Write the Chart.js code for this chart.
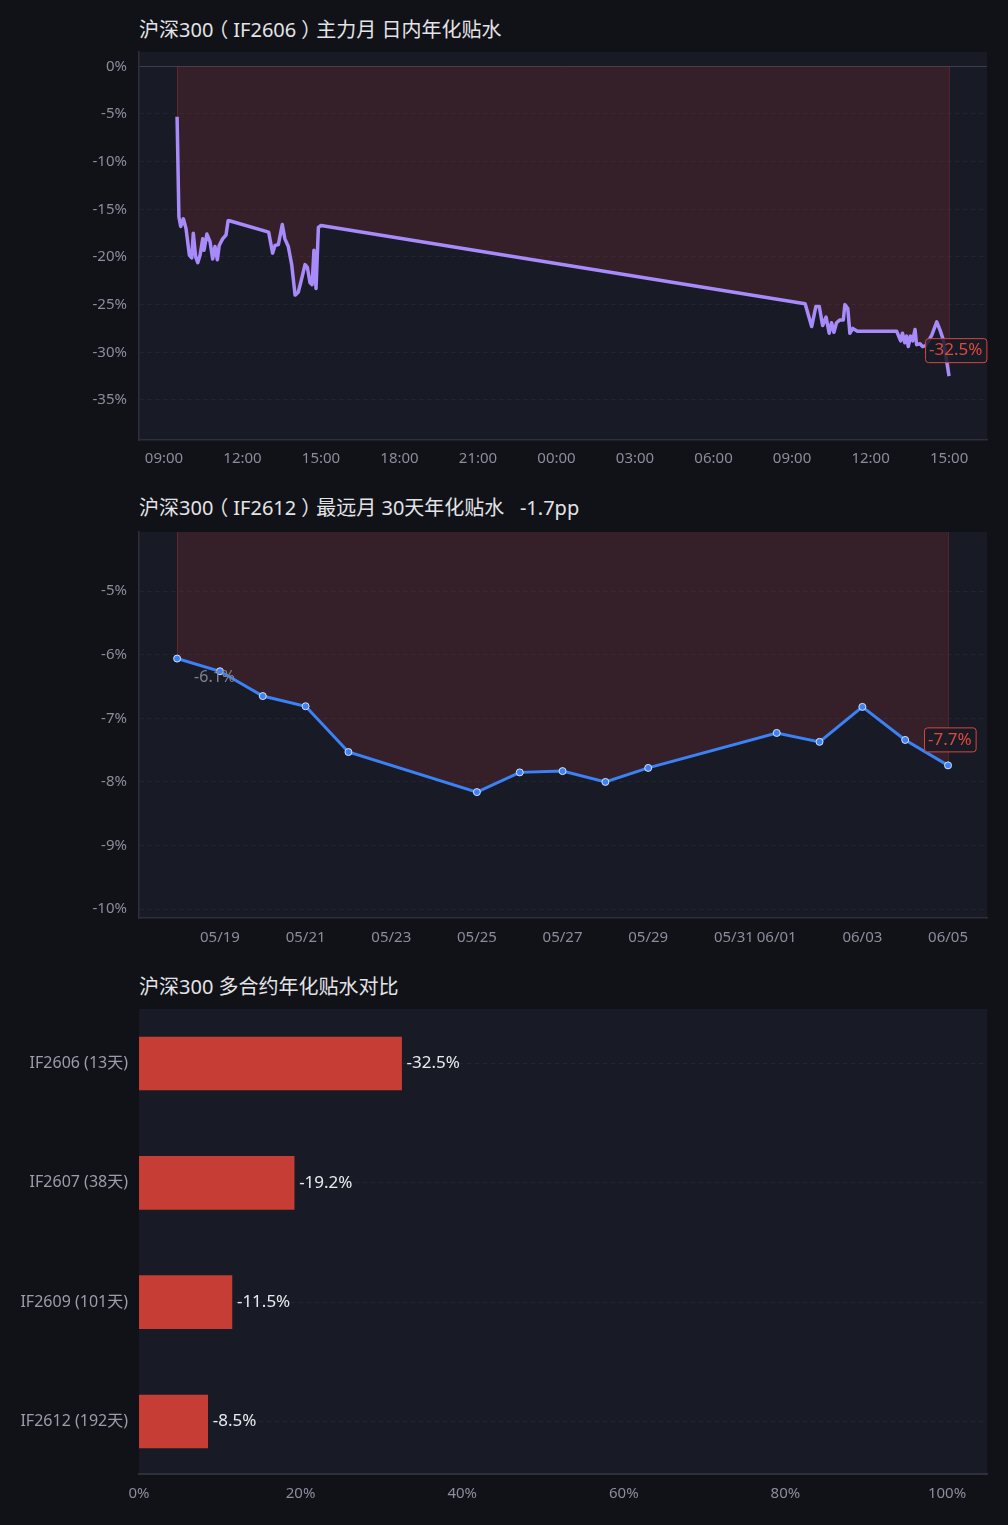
<!DOCTYPE html>
<html>
<head>
<meta charset="utf-8">
<script src="https://cdn.jsdelivr.net/npm/chart.js@4.4.1/dist/chart.umd.min.js"></script>
<style>
  body { margin: 0; background: #111217; width: 1008px; height: 1525px; overflow: hidden; position: relative;
         font-family: "Noto Sans", "Noto Sans CJK SC", sans-serif; }
  .title { position: absolute; left: 139px; color: #e3e4e8; font-size: 20px; line-height: 24px; white-space: pre; }
  .po { position: relative; left: -5px; }
  .pc { position: relative; left: 5px; }
  .box { position: absolute; left: 0; width: 1008px; }
</style>
</head>
<body>
<div class="title" style="top:18px">沪深300<span class="po">（</span>IF2606<span class="pc">）</span>主力月 日内年化贴水</div>
<div class="box" style="top:40px;height:440px"><canvas id="intradayChart"></canvas></div>

<div class="title" style="top:496px">沪深300<span class="po">（</span>IF2612<span class="pc">）</span>最远月 30天年化贴水   -1.7pp</div>
<div class="box" style="top:520px;height:440px"><canvas id="farChart"></canvas></div>

<div class="title" style="top:975px">沪深300 多合约年化贴水对比</div>
<div class="box" style="top:1000px;height:525px"><canvas id="compareChart"></canvas></div>

<script>
// --- Data ---
// chart 1: hours counted from 09:00 of the first session (24 = 09:00 next day)
const intradayHours = [
  0.50, 0.57, 0.64, 0.74, 0.84, 0.97, 1.06, 1.12, 1.21, 1.29, 1.38, 1.48, 1.53, 1.64, 1.76, 1.86, 1.95, 2.04, 2.11, 2.24, 2.37, 2.45, 2.50,
  4.00, 4.15, 4.24, 4.37, 4.52, 4.62, 4.75, 4.88, 5.01, 5.13, 5.26, 5.39, 5.48, 5.58, 5.66, 5.73, 5.81, 5.90, 6.00,
  24.50, 24.75, 24.91, 25.04, 25.17, 25.30, 25.42, 25.51, 25.60, 25.70, 25.83, 25.96, 26.02, 26.13, 26.21, 26.32, 26.50,
  28.00, 28.15, 28.22, 28.31, 28.38, 28.44, 28.53, 28.61, 28.70, 28.76, 28.89, 28.99, 29.11, 29.34, 29.53, 29.66, 29.78, 30.00
];
const intradayValues = [
  -5.3, -15.8, -16.8, -16.0, -17.0, -19.8, -20.1, -17.5, -20.0, -20.6, -19.8, -18.1, -19.3, -17.6, -18.4, -20.2, -18.9, -20.3, -18.8, -18.1, -17.7, -16.2, -16.2,
  -17.4, -19.6, -18.8, -18.7, -16.6, -18.1, -18.9, -20.8, -24.0, -23.7, -22.3, -20.8, -21.1, -22.7, -22.9, -19.3, -23.3, -16.9, -16.7,
  -24.9, -27.3, -25.2, -25.2, -27.2, -26.3, -28.0, -26.9, -27.9, -26.9, -26.6, -26.6, -25.0, -25.4, -28.0, -27.5, -27.8,
  -27.8, -28.8, -28.0, -29.0, -28.3, -29.4, -28.3, -28.8, -27.6, -29.2, -29.1, -29.4, -29.3, -28.2, -26.8, -27.7, -28.7, -32.5
];
const intradayTickHours = [0, 3, 6, 9, 12, 15, 18, 21, 24, 27, 30];
const intradayTickLabels = ['09:00', '12:00', '15:00', '18:00', '21:00', '00:00', '03:00', '06:00', '09:00', '12:00', '15:00'];
const intradayYTicks = [0, -5, -10, -15, -20, -25, -30, -35];

// chart 2
const farDates = ['05/18', '05/19', '05/20', '05/21', '05/22', '05/25', '05/26', '05/27', '05/28', '05/29', '06/01', '06/02', '06/03', '06/04', '06/05'];
const farValues = [-6.06, -6.26, -6.65, -6.81, -7.53, -8.16, -7.85, -7.83, -8.00, -7.78, -7.23, -7.37, -6.82, -7.34, -7.74];
const farTickDates = ['05/19', '05/21', '05/23', '05/25', '05/27', '05/29', '05/31', '06/01', '06/03', '06/05'];
const farYTicks = [-5, -6, -7, -8, -9, -10];

// chart 3
const contractLabels = ['IF2606 (13天)', 'IF2607 (38天)', 'IF2609 (101天)', 'IF2612 (192天)'];
const contractValues = [-32.5, -19.2, -11.5, -8.5];
const contractXTicks = [0, 20, 40, 60, 80, 100];

// --- Helpers ---
const FONT = '"Noto Sans", "Noto Sans CJK SC", sans-serif';
Chart.defaults.font.family = FONT;
Chart.defaults.font.size = 15;
Chart.defaults.color = '#8a8d9c';
Chart.defaults.animation = false;
Chart.defaults.plugins.legend.display = false;
Chart.defaults.plugins.tooltip.enabled = false;

const dayIndex = s => {
    const [m, d] = s.split('/').map(Number);
    return (Date.UTC(2026, m - 1, d) - Date.UTC(2026, 4, 18)) / 86400000;
};
const fixTicks = list => scale => { scale.ticks = list.map(v => ({ value: v })); };
// fixed axis sizes, no extra room for overhanging labels
const fitY = s => { s.width = 139; s.paddingTop = 0; s.paddingBottom = 0; };
const fitX = h => s => { s.height = h; s.paddingLeft = 0; s.paddingRight = 0; };
const gridColor = ctx => (ctx.tick && ctx.tick.value === 0) ? '#3b3e4b' : 'rgba(255,255,255,0.05)';
const gridDash = ctx => (ctx.tick && ctx.tick.value === 0) ? [] : [4, 4];
const FILL_RED = 'rgba(220,60,60,0.15)';

// --- Plugins ---
const areaBg = {
    id: 'areaBg',
    beforeDraw(chart) {
        const { ctx, chartArea: a } = chart;
        ctx.save();
        ctx.fillStyle = '#181b26';
        ctx.fillRect(a.left, a.top, a.right - a.left, a.bottom - a.top);
        ctx.restore();
    }
};

// thin red edges at both ends of the filled region
const fillEdges = {
    id: 'fillEdges',
    beforeDatasetsDraw(chart) {
        const { ctx, chartArea: a } = chart;
        const pts = chart.getDatasetMeta(0).data;
        const zero = Math.max(a.top, chart.scales.y.getPixelForValue(0));
        ctx.save();
        ctx.beginPath();
        ctx.rect(a.left, a.top, a.right - a.left, a.bottom - a.top);
        ctx.clip();
        ctx.strokeStyle = 'rgba(200,50,50,0.35)';
        ctx.lineWidth = 1;
        [pts[0], pts[pts.length - 1]].forEach(p => {
            ctx.beginPath();
            ctx.moveTo(Math.round(p.x) + 0.5, zero);
            ctx.lineTo(Math.round(p.x) + 0.5, p.y);
            ctx.stroke();
        });
        ctx.restore();
    }
};

// last value badge + optional first value note
const valueBadges = {
    id: 'valueBadges',
    afterDatasetsDraw(chart, args, opts) {
        const { ctx } = chart;
        const pts = chart.getDatasetMeta(0).data;
        const vals = chart.data.datasets[0].data.map(d => d.y);
        const last = pts[pts.length - 1];
        const text = vals[vals.length - 1].toFixed(1) + '%';
        ctx.save();
        ctx.font = '17px ' + FONT;
        const w = ctx.measureText(text).width + 8;
        const bx = last.x - 24, by = last.y - 38;
        ctx.fillStyle = 'rgba(24,27,38,0.85)';
        ctx.strokeStyle = '#d8463c';
        ctx.lineWidth = 1;
        ctx.beginPath();
        ctx.roundRect(bx + 0.5, by + 0.5, w, 24, 3);
        ctx.fill();
        ctx.stroke();
        ctx.fillStyle = '#e2483d';
        ctx.textBaseline = 'middle';
        ctx.textAlign = 'left';
        ctx.fillText(text, bx + 4, by + 12.5);
        if (opts.showFirst) {
            const first = pts[0];
            ctx.fillStyle = '#80838f';
            ctx.font = '16px ' + FONT;
            ctx.fillText(vals[0].toFixed(1) + '%', first.x + 17, first.y + 19);
        }
        ctx.restore();
    }
};

const barLabels = {
    id: 'barLabels',
    afterDatasetsDraw(chart) {
        const { ctx } = chart;
        ctx.save();
        ctx.font = '17px ' + FONT;
        ctx.fillStyle = '#eaeaee';
        ctx.textBaseline = 'middle';
        chart.getDatasetMeta(0).data.forEach((bar, i) => {
            ctx.fillText(contractValues[i].toFixed(1) + '%', bar.x + 5, bar.y);
        });
        ctx.restore();
    }
};

// --- Chart 1: intraday ---
new Chart(document.getElementById('intradayChart').getContext('2d'), {
    type: 'line',
    data: {
        datasets: [{
            data: intradayHours.map((h, i) => ({ x: h, y: intradayValues[i] })),
            borderColor: '#a78bfa',
            borderWidth: 3.5,
            borderJoinStyle: 'round',
            pointRadius: 0,
            fill: { target: 'origin', above: 'rgba(0,0,0,0)', below: FILL_RED }
        }]
    },
    options: {
        responsive: true, maintainAspectRatio: false,
        layout: { padding: { top: 12, right: 21, left: 0, bottom: 0 } },
        scales: {
            x: {
                type: 'linear', min: -0.955, max: 31.45,
                afterBuildTicks: fixTicks(intradayTickHours),
                afterFit: fitX(40),
                ticks: { callback: (v, i) => intradayTickLabels[i], padding: 10, maxRotation: 0, autoSkip: false },
                grid: { display: false, drawTicks: false },
                border: { color: '#2c2f3c', width: 1.5 }
            },
            y: {
                min: -39.2, max: 1.5,
                afterBuildTicks: fixTicks(intradayYTicks),
                afterFit: fitY,
                ticks: { callback: v => v + '%', padding: 12 },
                grid: { color: gridColor, drawTicks: false },
                border: { color: '#2c2f3c', width: 1.5, dash: gridDash }
            }
        }
    },
    plugins: [areaBg, fillEdges, valueBadges]
});

// --- Chart 2: far month ---
new Chart(document.getElementById('farChart').getContext('2d'), {
    type: 'line',
    data: {
        datasets: [{
            data: farDates.map((d, i) => ({ x: dayIndex(d), y: farValues[i] })),
            borderColor: '#3b82f6',
            borderWidth: 3,
            pointRadius: 3.5,
            pointBackgroundColor: '#3b82f6',
            pointBorderColor: '#d6e2f5',
            pointBorderWidth: 1,
            fill: { target: 'origin', above: 'rgba(0,0,0,0)', below: FILL_RED }
        }]
    },
    options: {
        responsive: true, maintainAspectRatio: false,
        layout: { padding: { top: 12, right: 21, left: 0, bottom: 0 } },
        scales: {
            x: {
                type: 'linear', min: -0.89, max: 18.91,
                afterBuildTicks: fixTicks(farTickDates.map(dayIndex)),
                afterFit: fitX(42),
                ticks: { callback: (v, i) => farTickDates[i], padding: 11, maxRotation: 0, autoSkip: false },
                grid: { display: false, drawTicks: false },
                border: { color: '#2c2f3c', width: 1.5 }
            },
            y: {
                min: -10.14, max: -4.07,
                afterBuildTicks: fixTicks(farYTicks),
                afterFit: fitY,
                ticks: { callback: v => v + '%', padding: 12 },
                grid: { color: gridColor, drawTicks: false },
                border: { color: '#2c2f3c', width: 1.5, dash: gridDash }
            }
        },
        plugins: { valueBadges: { showFirst: true } }
    },
    plugins: [areaBg, fillEdges, valueBadges]
});

// --- Chart 3: contract comparison ---
new Chart(document.getElementById('compareChart').getContext('2d'), {
    type: 'bar',
    data: {
        datasets: [{
            data: contractValues.map((v, i) => ({ x: Math.abs(v), y: i })),
            backgroundColor: '#c53d35',
            barThickness: 53
        }]
    },
    options: {
        indexAxis: 'y',
        responsive: true, maintainAspectRatio: false,
        layout: { padding: { top: 9, right: 21, left: 0, bottom: 0 } },
        scales: {
            x: {
                type: 'linear', min: 0, max: 104.95,
                afterBuildTicks: fixTicks(contractXTicks),
                afterFit: fitX(51),
                ticks: { callback: v => v + '%', padding: 11, maxRotation: 0, autoSkip: false },
                grid: { display: false, drawTicks: false },
                border: { color: '#2c2f3c', width: 2 }
            },
            y: {
                type: 'linear', min: -0.457, max: 3.44, reverse: true, offset: false,
                afterBuildTicks: fixTicks([0, 1, 2, 3]),
                afterFit: fitY,
                ticks: { callback: (v, i) => contractLabels[i], padding: 11, color: '#9a9dab', font: { size: 16 } },
                grid: { color: 'rgba(255,255,255,0.05)', drawTicks: false, offset: false },
                border: { display: false, dash: [4, 4] }
            }
        }
    },
    plugins: [areaBg, barLabels]
});
</script>
</body>
</html>
